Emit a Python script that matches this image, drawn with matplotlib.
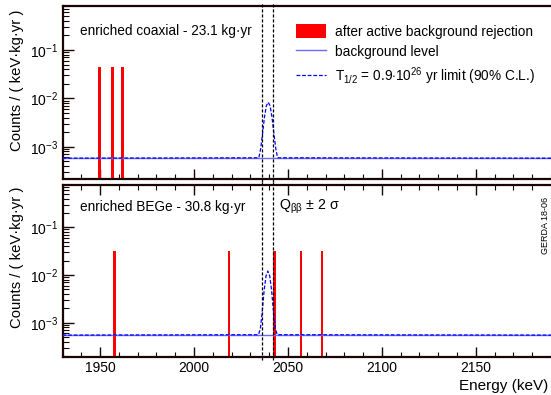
# -*- coding: utf-8 -*-

import numpy as np
import matplotlib
matplotlib.use('Agg')
import matplotlib.pyplot as plt
from matplotlib.patches import Patch
from matplotlib.lines import Line2D
from matplotlib.ticker import LogLocator, MultipleLocator, NullFormatter

plt.rcParams['font.family'] = ['Liberation Sans', 'DejaVu Sans']
plt.rcParams['mathtext.fontset'] = 'custom'
plt.rcParams['mathtext.rm'] = 'Liberation Sans'
plt.rcParams['mathtext.it'] = 'Liberation Sans:italic'
plt.rcParams['mathtext.bf'] = 'Liberation Sans:bold'

# energy window (keV), right edge sits just outside the image
e_min, e_max = 1930, 2190.8

# events after active background rejection
coax_events = [1949.6, 1956.7, 1962.0]
coax_height = 0.045
bege_events = [1957.6, 2018.6, 2042.8, 2056.9, 2068.1]
bege_height = 0.032

# flat background level, counts/(keV kg yr)
coax_bkg = 5.8e-4
bege_bkg = 5.5e-4

# Qbb +- 2 sigma window
roi_lines = [2036.3, 2042.2]

# T1/2 limit curve
coax_limit_e = [1930, 2034.5, 2035.5, 2036.5, 2037.5, 2038.5, 2039.5,
                2040.5, 2041.5, 2042.5, 2043.5, 2044.5, 2191]
coax_limit_v = [5.8e-4, 5.9e-4, 9.2e-4, 1.9e-3, 4.1e-3, 7.0e-3, 8.3e-3,
                7.0e-3, 4.1e-3, 1.9e-3, 9.2e-4, 5.9e-4, 5.8e-4]
bege_limit_e = [1930, 2034.3, 2035.3, 2036.3, 2037.3, 2038.3, 2039.3,
                2040.3, 2041.3, 2042.3, 2043.3, 2044.3, 2191]
bege_limit_v = [5.5e-4, 5.6e-4, 7.4e-4, 1.7e-3, 4.7e-3, 9.5e-3, 1.21e-2,
                9.5e-3, 4.7e-3, 1.7e-3, 7.4e-4, 5.6e-4, 5.5e-4]

panels = [
    dict(label='enriched coaxial - 23.1 kg\u00b7yr', events=coax_events,
         height=coax_height, bkg=coax_bkg, le=coax_limit_e, lv=coax_limit_v,
         ylim=(2.15e-4, 0.81)),
    dict(label='enriched BEGe - 30.8 kg\u00b7yr', events=bege_events,
         height=bege_height, bkg=bege_bkg, le=bege_limit_e, lv=bege_limit_v,
         ylim=(1.91e-4, 0.77)),
]

W, H = 551, 395
AXW = 490.0
fig = plt.figure(figsize=(W / 100, H / 100), dpi=100)
ax_top = fig.add_axes([62.5 / W, (H - 179) / H, AXW / W, 173 / H])
ax_bot = fig.add_axes([62.5 / W, (H - 357) / H, AXW / W, 172 / H])
axes = [ax_top, ax_bot]

frame_col = '#1a0505'
for i, (ax, p) in enumerate(zip(axes, panels)):
    ax.set_yscale('log')
    ax.set_xlim(e_min, e_max)
    ax.set_ylim(*p['ylim'])

    ax.bar(p['events'], [p['height']] * len(p['events']), width=1.5,
           bottom=1e-6, color='#ff0000', linewidth=0, zorder=2)
    ax.axhline(p['bkg'], color='#6a6aff', lw=1.0, zorder=3)
    ax.plot(p['le'], p['lv'], color='#0000ff', lw=0.9, dashes=(3, 1.5), zorder=4)
    for xv in roi_lines:
        ax.axvline(xv, ymin=-0.02, ymax=1.02, color='black', lw=0.9,
                   dashes=(2.5, 1.5), zorder=5, clip_on=False)

    for s in ax.spines.values():
        s.set_linewidth(1.6)
        s.set_color(frame_col)

    ax.xaxis.set_major_locator(MultipleLocator(50))
    ax.xaxis.set_minor_locator(MultipleLocator(10))
    ax.yaxis.set_major_locator(LogLocator(base=10, numticks=10))
    ax.yaxis.set_minor_locator(LogLocator(base=10, subs=np.arange(2, 10), numticks=20))
    ax.yaxis.set_minor_formatter(NullFormatter())
    ax.tick_params(which='both', direction='in', top=(i == 1), right=False,
                   labelsize=10, color=frame_col, pad=3)
    ax.tick_params(which='major', axis='x', length=7, width=1)
    ax.tick_params(which='minor', axis='x', length=3.5, width=0.8)
    ax.tick_params(which='major', axis='y', length=8, width=1)
    ax.tick_params(which='minor', axis='y', length=4, width=0.8)
    if i == 0:
        ax.tick_params(axis='x', labelbottom=False)

# panel texts
ax_top.text((80 - 62.5) / AXW, (179 - 31) / 173, panels[0]['label'],
            transform=ax_top.transAxes, fontsize=9.8, va='center', ha='left')
ax_bot.text((80 - 62.5) / AXW, (357 - 207) / 172, panels[1]['label'],
            transform=ax_bot.transAxes, fontsize=9.8, va='center', ha='left')
ax_bot.text((279 - 62.5) / AXW, (357 - 207) / 172,
            'Q$_{\\mathrm{\\beta\\beta}}$ \u00b1 2 \u03c3',
            transform=ax_bot.transAxes, fontsize=10.2, va='center', ha='left')

fig.text(545 / W, (H - 225) / H, 'GERDA 18-06', rotation=90, fontsize=6.5,
         ha='center', va='center')

# y titles aligned to the top end of each axis
fig.text(17 / W, (H - 10) / H, 'Counts / ( keV\u00b7kg\u00b7yr )', rotation=90,
         fontsize=10.7, ha='center', va='top')
fig.text(17 / W, (H - 187) / H, 'Counts / ( keV\u00b7kg\u00b7yr )', rotation=90,
         fontsize=10.7, ha='center', va='top')
fig.text(548 / W, (H - 386) / H, 'Energy (keV)', fontsize=11, ha='right', va='center')

handles = [
    Patch(facecolor='#ff0000', edgecolor='none'),
    Line2D([], [], color='#6a6aff', lw=1.0),
    Line2D([], [], color='#0000ff', lw=0.9, dashes=(3, 1.5)),
]
labels = ['after active background rejection', 'background level',
          r'T$_{1/2}$ = 0.9$\cdot$10$^{26}$ yr limit (90% C.L.)']
ax_top.legend(handles, labels, loc='upper left', frameon=False, fontsize=9.8,
              bbox_to_anchor=((296 - 62.5) / AXW, (179 - 24.5) / 173),
              handlelength=2.2, handleheight=1.1, handletextpad=0.7,
              labelspacing=0.45, borderpad=0, borderaxespad=0)

plt.savefig('out.png', dpi=100)
